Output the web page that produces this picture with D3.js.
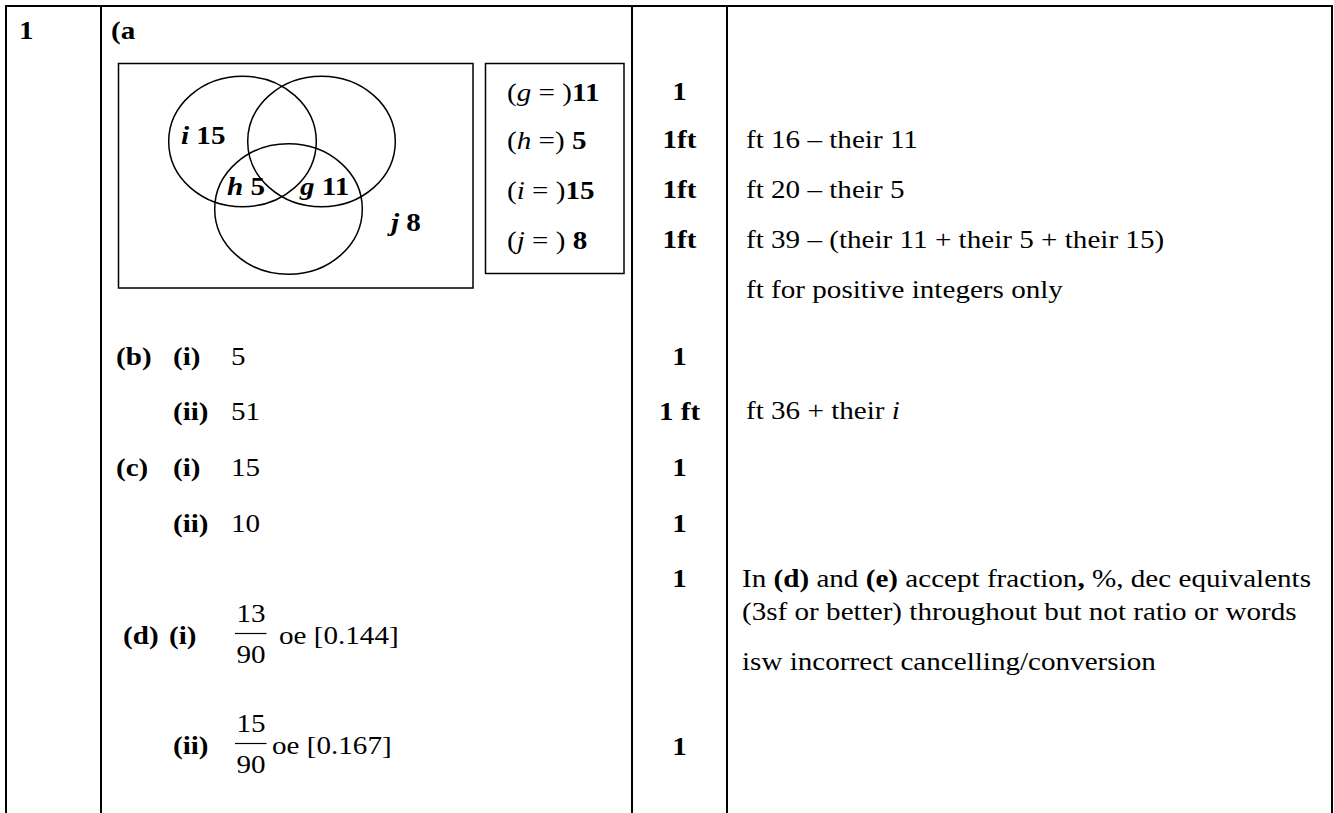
<!DOCTYPE html>
<html>
<head>
    <meta charset="utf-8">
    <title>Question 1 mark scheme</title>
    <script src="https://cdn.jsdelivr.net/npm/d3@7"></script>
    <style>
        html, body { margin: 0; padding: 0; background-color: #fff; }
        svg { display: block; background-color: #fff; }
        svg text {
            font-family: "Liberation Serif", "Times New Roman", serif;
            font-size: 26px;
            fill: #000;
            white-space: pre;
        }
        svg .rule { stroke: #000; stroke-width: 2; }
        svg .thin { stroke: #000; stroke-width: 1.5; fill: none; }
    </style>
</head>
<body>
<svg></svg>
<script>
// ---- content ----
var question = '1';
var partA = '(a';

// venn regions: letter, value
var vennKeys = ['i', 'h', 'g', 'j'];
var vennValues = [15, 5, 11, 8];

// boxed answers for (a)
var boxKeys = ['g', 'h', 'i', 'j'];
var boxPre = [' = )', ' =) ', ' = )', ' = ) '];
var boxValues = ['11', '5', '15', '8'];

// short answers (b), (c)
var partLabels = ['(b)', '', '(c)', ''];
var subLabels = ['(i)', '(ii)', '(i)', '(ii)'];
var shortAnswers = ['5', '51', '15', '10'];

// fraction answers (d)
var fracParts = ['(d)', ''];
var fracSubs = ['(i)', '(ii)'];
var fracNum = ['13', '15'];
var fracDen = ['90', '90'];
var fracTail = ['oe [0.144]', 'oe [0.167]'];

var marks = ['1', '1ft', '1ft', '1ft', '1', '1 ft', '1', '1', '1', '1'];

// comments as runs: [text, style]
var comments = [
    [['ft 16 \u2013 their 11', '']],
    [['ft 20 \u2013 their 5', '']],
    [['ft 39 \u2013 (their 11 + their 5 + their 15)', '']],
    [['ft for positive integers only', '']],
    [['ft 36 + their ', ''], ['i', 'i']],
    [['In ', ''], ['(d)', 'b'], [' and ', ''], ['(e)', 'b'], [' accept fraction', ''], [',', 'b'], [' %, dec equivalents', '']],
    [['(3sf or better) throughout but not ratio or words', '']],
    [['isw incorrect cancelling/conversion', '']]
];

// ---- layout ----
var W = 1334, H = 813, SX = 1.12;
var colX = [6, 101, 632, 727, 1332];
var markRows = [100, 148, 198, 248, 365, 420, 476, 532, 587, 755];
var commentRows = [148, 198, 248, 298, 419, 587, 620, 670];
var commentX = [746, 746, 746, 746, 746, 742, 742, 742];
var shortRows = [365, 420, 476, 532];
var fracRows = [644, 754];

var svg = d3.select('svg').attr('width', W).attr('height', H);

function put(sel, x, y, runs, anchor) {
    var t = sel.append('text')
        .attr('transform', 'translate(' + x + ',' + y + ')scale(' + SX + ',1)');
    if (anchor) t.attr('text-anchor', anchor);
    runs.forEach(function (r) {
        t.append('tspan').text(r[0])
            .style('font-weight', r[1].indexOf('b') >= 0 ? 'bold' : null)
            .style('font-style', r[1].indexOf('i') >= 0 ? 'italic' : null);
    });
    return t;
}

// table rules
svg.append('line').attr('class', 'rule')
    .attr('x1', colX[0] - 1).attr('x2', colX[4] + 1).attr('y1', 6).attr('y2', 6);
svg.selectAll('line.col').data(colX).enter().append('line')
    .attr('class', 'rule col')
    .attr('x1', function (d) { return d; }).attr('x2', function (d) { return d; })
    .attr('y1', 5).attr('y2', H);

put(svg, 19, 39, [[question, 'b']]);
put(svg, 111, 39, [[partA, 'b']]);

// venn diagram
svg.append('rect').attr('class', 'thin')
    .attr('x', 118.5).attr('y', 63.5).attr('width', 354.5).attr('height', 224.5);

var circles = [[242.5, 141.5], [321.5, 141.5], [288.5, 209]];
var rx = 73.8, ry = 65.3;
svg.selectAll('ellipse').data(circles).enter().append('ellipse')
    .attr('class', 'thin')
    .attr('cx', function (d) { return d[0]; })
    .attr('cy', function (d) { return d[1]; })
    .attr('rx', rx).attr('ry', ry);

var vennPos = [[181, 144], [227, 195], [300, 195], [391, 231]];
vennKeys.forEach(function (k, i) {
    put(svg, vennPos[i][0], vennPos[i][1], [[k, 'bi'], [' ' + vennValues[i], 'b']]);
});

// answer box
svg.append('rect').attr('class', 'thin')
    .attr('x', 485.5).attr('y', 63.5).attr('width', 138.5).attr('height', 210);
boxKeys.forEach(function (k, i) {
    put(svg, 507, markRows[i] + 1, [['(', ''], [k, 'i'], [boxPre[i], ''], [boxValues[i], 'b']]);
});

// marks
marks.forEach(function (m, i) {
    put(svg, 679.5, markRows[i], [[m, 'b']], 'middle');
});

// comments
comments.forEach(function (c, i) {
    put(svg, commentX[i], commentRows[i], c);
});

// short answers
shortAnswers.forEach(function (a, i) {
    if (partLabels[i]) put(svg, 116, shortRows[i], [[partLabels[i], 'b']]);
    put(svg, 173, shortRows[i], [[subLabels[i], 'b']]);
    put(svg, 231, shortRows[i], [[a, '']]);
});

// fraction answers
var fracTailX = [279, 272];
fracNum.forEach(function (n, i) {
    var y = fracRows[i], cx = 251;
    if (fracParts[i]) put(svg, 123, y, [[fracParts[i], 'b']]);
    put(svg, i === 0 ? 169 : 173, y, [[fracSubs[i], 'b']]);
    put(svg, cx, y - 22, [[n, '']], 'middle');
    put(svg, cx, y + 19, [[fracDen[i], '']], 'middle');
    svg.append('line').attr('stroke', '#000').attr('stroke-width', 1.2)
        .attr('x1', 235).attr('x2', 266.5)
        .attr('y1', y - 10.5).attr('y2', y - 10.5);
    put(svg, fracTailX[i], y, [[fracTail[i], '']]);
});
</script>
</body>
</html>
